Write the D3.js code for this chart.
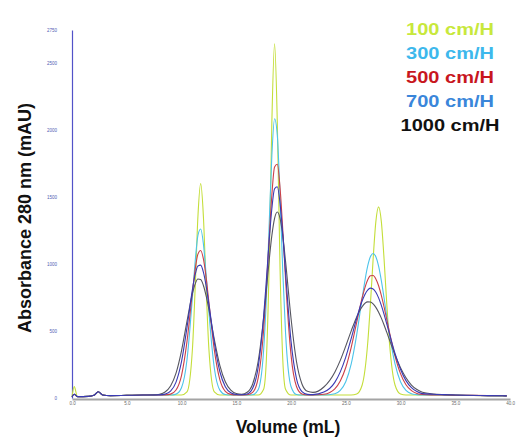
<!DOCTYPE html>
<html>
<head>
<meta charset="utf-8">
<script src="https://cdn.jsdelivr.net/npm/d3@7"></script>
<style>
  body { margin: 0; background: #fff; }
  svg { display: block; }
</style>
</head>
<body>
<svg id="chart"></svg>
<script>
// elution volume (mL), shared by every run
const volume = [
  0, 0.2, 0.5, 1.5, 2.0, 2.4, 2.8, 3.5,
  5, 6.5, 7.5, 8, 8.5, 9, 9.5,
  10, 10.5, 11, 11.25, 11.5, 11.75, 12, 12.25, 12.5,
  13, 13.5, 14, 14.5, 15, 15.5, 16, 16.5,
  17, 17.5, 17.75, 18, 18.25, 18.5, 18.75, 19, 19.25, 19.5,
  20, 20.5, 21, 21.5, 22,
  23, 24, 24.5, 25, 25.5, 26, 26.5,
  27, 27.25, 27.5, 27.75, 28, 28.25, 28.5, 28.75, 29,
  29.5, 30, 30.5, 31, 31.5, 32,
  33, 34, 35, 36, 38, 39.7
];

// absorbance 280 nm (mAU), one list per flow rate
const abs100 = [
  10, 85, 10, 12, 20, 47, 22, 18,
  20, 22, 22, 22, 22, 22, 22,
  22, 45, 368, 826, 1357, 1602, 1357, 826, 368,
  45, 22, 22, 22, 22, 22, 22, 22,
  22, 66, 286, 968, 2056, 2647, 2056, 968, 286, 66,
  22, 22, 22, 22, 22,
  22, 22, 22, 22, 22, 30, 97,
  405, 698, 1038, 1318, 1428, 1318, 1038, 698, 405,
  97, 30, 22, 22, 22, 22,
  22, 21, 20, 19, 17, 16
];
const abs300 = [
  10, 28, 10, 12, 20, 47, 22, 18,
  20, 22, 22, 22, 22, 22, 29,
  77, 284, 755, 1022, 1215, 1263, 1152, 920, 645,
  222, 59, 26, 22, 22, 22, 22, 24,
  61, 357, 742, 1280, 1809, 2087, 1962, 1505, 944, 489,
  86, 26, 22, 22, 22,
  22, 32, 57, 122, 255, 474, 747,
  985, 1055, 1080, 1055, 985, 877, 747, 608, 474,
  255, 122, 57, 32, 25, 22,
  22, 21, 20, 19, 17, 16
];
const abs500 = [
  10, 28, 10, 12, 20, 47, 22, 18,
  20, 22, 22, 22, 23, 29, 60,
  168, 421, 792, 962, 1075, 1102, 1039, 900, 717,
  358, 137, 50, 27, 22, 22, 24, 42,
  148, 508, 820, 1182, 1515, 1727, 1747, 1571, 1254, 890,
  322, 86, 30, 22, 22,
  28, 69, 127, 228, 379, 566, 750,
  882, 913, 915, 890, 839, 767, 680, 585, 488,
  313, 182, 99, 55, 34, 26,
  23, 22, 21, 20, 18, 16
];
const abs700 = [
  10, 28, 10, 12, 20, 47, 22, 18,
  20, 22, 22, 23, 29, 51, 119,
  272, 526, 812, 923, 987, 993, 940, 837, 702,
  414, 198, 84, 39, 26, 24, 30, 72,
  229, 609, 881, 1167, 1414, 1564, 1579, 1454, 1222, 938,
  427, 145, 48, 27, 25,
  44, 117, 195, 306, 446, 596, 727,
  807, 821, 815, 790, 748, 692, 625, 552, 477,
  333, 215, 130, 77, 48, 33,
  28, 25, 22, 20, 18, 16
];
const abs1000 = [
  10, 28, 10, 12, 20, 47, 22, 18,
  20, 22, 23, 28, 45, 90, 186,
  353, 573, 781, 853, 889, 885, 841, 763, 663,
  437, 244, 121, 58, 33, 28, 43, 105,
  273, 598, 808, 1023, 1213, 1343, 1390, 1343, 1213, 1023,
  598, 273, 105, 50, 42,
  82, 193, 281, 388, 502, 606, 683,
  718, 717, 703, 677, 641, 597, 546, 490, 433,
  323, 226, 151, 97, 63, 43,
  30, 25, 22, 20, 18, 16
];

const flowRates = ["100 cm/H", "300 cm/H", "500 cm/H", "700 cm/H", "1000 cm/H"];
const xTicks = [0, 5, 10, 15, 20, 25, 30, 35, 40];
const yTicks = [0, 500, 1000, 1500, 2000, 2500, 2750];

const runs = [
  { name: flowRates[0], values: abs100, line: "#c4de3a", key: "#c8e83c" },
  { name: flowRates[1], values: abs300, line: "#4cc4ea", key: "#3db8ec" },
  { name: flowRates[2], values: abs500, line: "#cc4048", key: "#c8161e" },
  { name: flowRates[4], values: abs1000, line: "#55555f", key: "#111111" },
  { name: flowRates[3], values: abs700, line: "#3a3ab4", key: "#3a86da" },
];

const svg = d3.select("#chart").attr("width", 519).attr("height", 438);

const x = d3.scaleLinear().domain([0, 40]).range([72, 510]);
const y = d3.scaleLinear().domain([0, 2750]).range([398, 30]);

// x axis (grey bar, tiny labels)
const xAxis = svg
  .append("g")
  .attr("transform", "translate(0,399)")
  .call(d3.axisBottom(x).tickValues(xTicks).tickSize(0).tickPadding(3).tickFormat(d3.format(".1f")));
xAxis.select(".domain").attr("stroke", "#a4a4a4").attr("stroke-width", 2);
xAxis
  .selectAll("text")
  .attr("fill", "#6a6a6a")
  .style("font-family", "Arial, 'Liberation Sans', sans-serif")
  .style("font-size", "4.5px");

// y axis (blue line, tiny labels)
const yAxis = svg
  .append("g")
  .attr("transform", "translate(72,0)")
  .call(d3.axisLeft(y).tickValues(yTicks).tickSize(0).tickPadding(15).tickFormat(d3.format("d")));
yAxis.select(".domain").attr("stroke", "#5252c8").attr("stroke-width", 1.2);
yAxis
  .selectAll("text")
  .attr("fill", "#5060b4")
  .style("font-family", "Arial, 'Liberation Sans', sans-serif")
  .style("font-size", "4.5px");

const line = d3
  .line()
  .x((d, i) => x(volume[i]))
  .y((d) => y(d))
  .curve(d3.curveMonotoneX);

svg
  .append("g")
  .selectAll("path")
  .data(runs)
  .enter()
  .append("path")
  .attr("d", (d) => line(d.values))
  .attr("fill", "none")
  .attr("stroke", (d) => d.line)
  .attr("stroke-width", 1.1);

// legend, stretched bold text like the original
const legendY = d3.scaleBand().domain(flowRates).range([21, 141]);
svg
  .append("g")
  .selectAll("text")
  .data(runs)
  .enter()
  .append("text")
  .attr("transform", (d) => `translate(450,${legendY(d.name) + 14}) scale(1.25,1)`)
  .attr("text-anchor", "middle")
  .attr("fill", (d) => d.key)
  .style("font-family", "Arial, 'Liberation Sans', sans-serif")
  .style("font-weight", "bold")
  .style("font-size", "16px")
  .text((d) => d.name);

// axis titles
svg
  .append("text")
  .attr("x", 288)
  .attr("y", 433)
  .attr("text-anchor", "middle")
  .style("font-family", "Arial, 'Liberation Sans', sans-serif")
  .style("font-weight", "bold")
  .style("font-size", "17.5px")
  .attr("fill", "#111")
  .text("Volume (mL)");

svg
  .append("text")
  .attr("transform", "translate(31,218) rotate(-90)")
  .attr("text-anchor", "middle")
  .style("font-family", "Arial, 'Liberation Sans', sans-serif")
  .style("font-weight", "bold")
  .style("font-size", "18px")
  .attr("fill", "#111")
  .text("Absorbance 280 nm (mAU)");
</script>
</body>
</html>
